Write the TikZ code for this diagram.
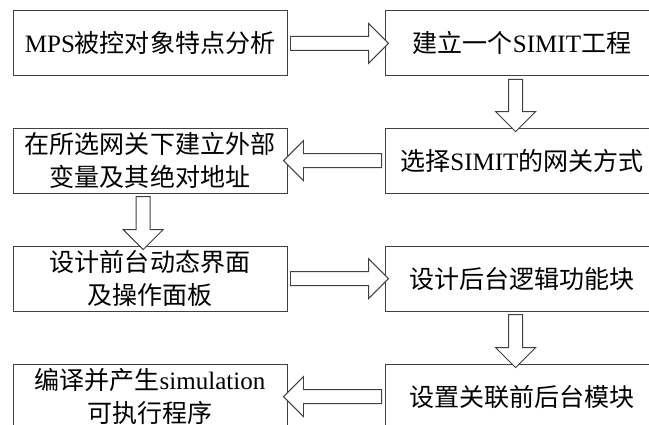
\documentclass[tikz,border=0pt]{standalone}
\usepackage{fontspec}
\setmainfont{Liberation Serif}
\newfontfamily\cjk{Noto Sans CJK SC}
\usetikzlibrary{calc, positioning, shapes.arrows}

\begin{document}
\begin{tikzpicture}
    \tikzset{
      stage/.style={
        rectangle, draw, line width=0.7pt,
        draw={rgb,255:red,64;green,64;blue,64},
        minimum width=6.85cm, minimum height=1.625cm, inner sep=0pt,
        align=center, font=\cjk\fontsize{17.8}{23}\selectfont,
      },
      flow/.style={
        single arrow, draw, line width=0.7pt,
        draw={rgb,255:red,64;green,64;blue,64}, fill=white,
        inner xsep=0pt, inner ysep=0.1625cm,
        single arrow head extend=0.325cm,
        single arrow tip angle=90,
        midway, sloped, allow upside down,
      },
    }

    \useasboundingbox (0,0) rectangle (16.225,10.625);
    \clip (0,0) rectangle (16.225,10.625);

    \node[stage] (mps) at (3.75,9.54) {\textrm{MPS}被控对象特点分析};
    \node[stage] (proj) at ($(mps) + (9.3,0)$) {建立一个\textrm{SIMIT}工程};
    \node[stage] (gate) at ($(proj) + (0,-2.93)$) {选择\textrm{SIMIT}的网关方式};
    \node[stage] (var) at ($(mps) + (0,-2.93)$) {在所选网关下建立外部\\变量及其绝对地址};
    \node[stage] (front) at ($(var) + (0,-2.95)$) {设计前台动态界面\\及操作面板};
    \node[stage] (back) at ($(front) + (9.3,0)$) {设计后台逻辑功能块};
    \node[stage] (link) at ($(back) + (0,-2.95)$) {设置关联前后台模块};
    \node[stage] (build) at ($(front) + (0,-2.95)$) {编译并产生\textrm{simulation}\\可执行程序};

    \path (mps.east) -- (proj.west) node[flow, minimum height=2.45cm] {};
    \path ($(proj.south) + (-0.16,0)$) -- ($(gate.north) + (-0.16,0)$)
      node[flow, minimum height=1.305cm] {};
    \path (gate.west) -- (var.east) node[flow, minimum height=2.45cm] {};
    \path ($(var.south) + (-0.17,0)$) -- ($(front.north) + (-0.17,0)$)
      node[flow, minimum height=1.325cm] {};
    \path (front.east) -- (back.west) node[flow, minimum height=2.45cm] {};
    \path ($(back.south) + (-0.16,0)$) -- ($(link.north) + (-0.16,0)$)
      node[flow, minimum height=1.325cm] {};
    \path (link.west) -- (build.east) node[flow, minimum height=2.45cm] {};
  \end{tikzpicture}
\end{document}
